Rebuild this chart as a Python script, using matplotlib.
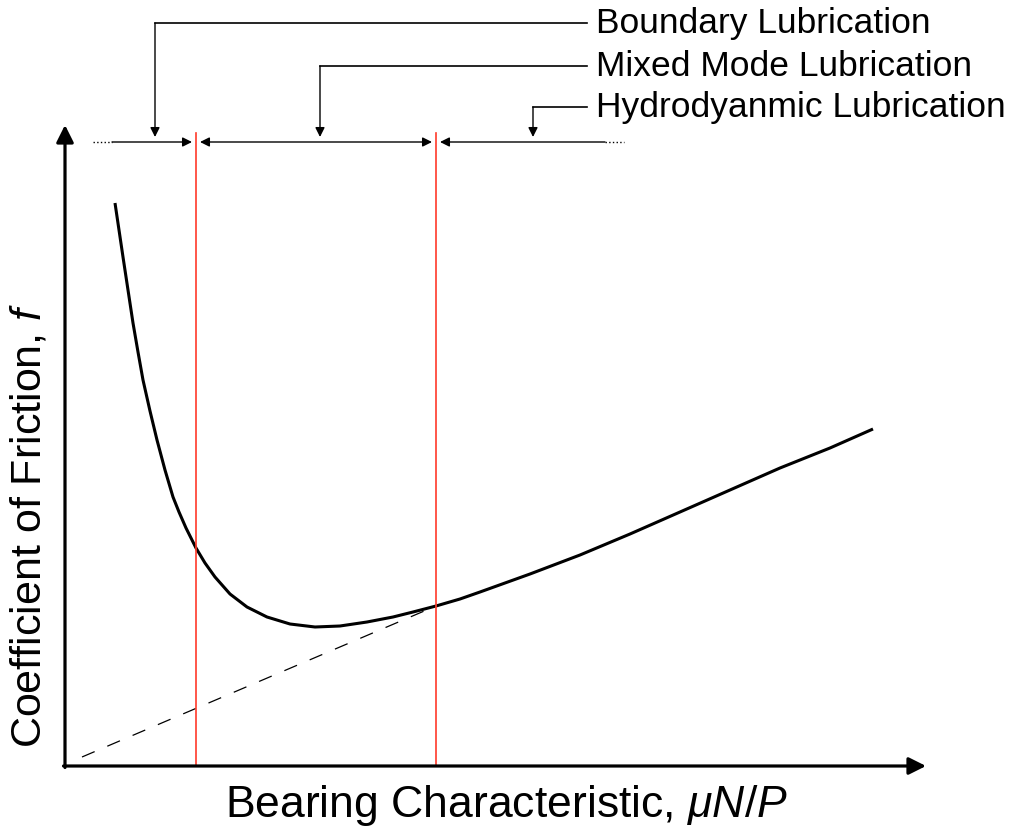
import matplotlib
matplotlib.use("Agg")
import matplotlib.pyplot as plt

plt.rcParams['font.family'] = ['Liberation Sans', 'DejaVu Sans']
plt.rcParams['mathtext.fontset'] = 'custom'
plt.rcParams['mathtext.it'] = 'Liberation Sans:italic'
plt.rcParams['mathtext.rm'] = 'Liberation Sans'

# Stribeck curve (arbitrary units, origin at the axis corner)
bearing = [50, 54, 58, 63, 68, 73, 78, 85, 92, 100, 108, 114, 121, 131, 140,
           150, 165, 182, 202, 225, 250, 275, 302, 328, 348, 371, 395, 415,
           465, 515, 565, 615, 665, 715, 765, 808]
friction = [563, 536, 509, 476, 443, 414, 386, 355, 326, 296, 269, 254, 238,
            218, 203, 189, 172, 159, 149, 142, 139, 140, 144, 149, 154, 160,
            167, 174, 192, 211, 232, 254, 276, 298, 318, 337]

# hydrodynamic asymptote (dashed)
hydro_x = [17, 371]
hydro_y = [9, 160]

# regime boundaries
regime_edges = [131, 371]
regime_span = [28, 559]          # extent of the regime arrow row
regime_labels = ["Boundary Lubrication", "Mixed Mode Lubrication",
                 "Hydrodyanmic Lubrication"]
leader_x = [90, 255, 468]        # where each leader drops onto the row
leader_y = [743, 700, 659]       # height of each label / leader

x_end, y_end = 861, 641
row_y = 624

fig = plt.figure(figsize=(10.13, 8.27), dpi=100)
ax = fig.add_axes([0, 0, 1, 1])
ax.set_xlim(-65, 948)
ax.set_ylim(-61, 766)
ax.axis('off')

# axes with arrow heads
ax.annotate("", xy=(x_end, 0), xytext=(-1.5, 0),
            arrowprops=dict(arrowstyle='-|>', color='black', lw=2.3,
                            mutation_scale=26, shrinkA=0, shrinkB=0))
ax.annotate("", xy=(0, y_end), xytext=(0, -1.5),
            arrowprops=dict(arrowstyle='-|>', color='black', lw=2.3,
                            mutation_scale=26, shrinkA=0, shrinkB=0))

# curve + dashed line
ax.plot(bearing, friction, color='black', lw=2.2, solid_capstyle='butt',
        solid_joinstyle='round')
ax.plot(hydro_x, hydro_y, color='black', lw=0.9, dashes=(11, 11))

# red regime lines
for xe in regime_edges:
    ax.plot([xe, xe], [0, 633], color='#ff3a2a', lw=1.2)

# regime arrow row
arrow_kw = dict(arrowstyle='-|>', color='black', lw=1.0, mutation_scale=14,
                shrinkA=0, shrinkB=0)
ax.plot([regime_span[0], regime_span[0] + 19], [row_y, row_y], color='black',
        lw=1.0, ls=':')
ax.plot([regime_span[1] - 19, regime_span[1]], [row_y, row_y], color='black',
        lw=1.0, ls=':')
ax.annotate("", xy=(regime_edges[0] - 4, row_y),
            xytext=(regime_span[0] + 19, row_y), arrowprops=arrow_kw)
ax.annotate("", xy=(regime_edges[0] + 4, row_y),
            xytext=(regime_edges[1] - 4, row_y),
            arrowprops=dict(arrowstyle='<|-|>', color='black', lw=1.0,
                            mutation_scale=14, shrinkA=0, shrinkB=0))
ax.annotate("", xy=(regime_edges[1] + 4, row_y),
            xytext=(regime_span[1] - 19, row_y), arrowprops=arrow_kw)

# leaders and labels
for lx, ly, lab in zip(leader_x, leader_y, regime_labels):
    ax.plot([lx, 522], [ly, ly], color='black', lw=1.2)
    ax.annotate("", xy=(lx, row_y + 5), xytext=(lx, ly),
                arrowprops=arrow_kw)
    ax.text(531, ly, lab, fontsize=25.5, ha='left', va='center')

ax.text(441, -40, r"Bearing Characteristic, $\mu N/P$", fontsize=32,
        ha='center', va='center')
ax.text(-35, 241, r"Coefficient of Friction, $f$", fontsize=31,
        ha='center', va='center', rotation=90)

fig.savefig("out.png", dpi=100)
